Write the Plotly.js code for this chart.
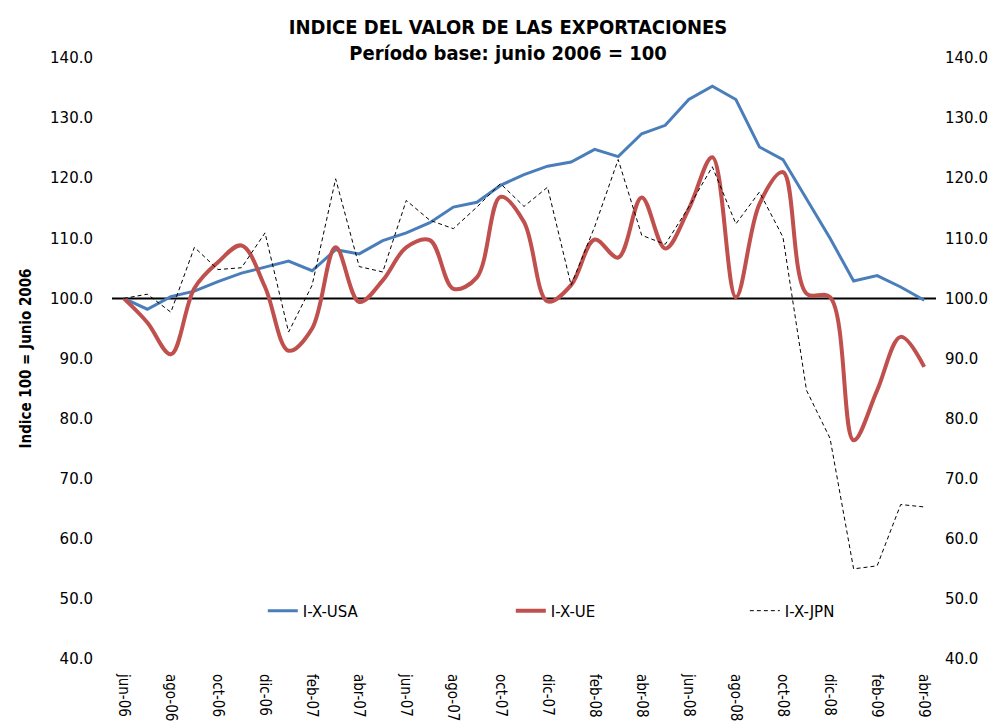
<!DOCTYPE html>
<html>
<head>
<meta charset="utf-8">
<script src="https://cdn.plot.ly/plotly-3.0.1.min.js"></script>
<style>
  html, body { margin: 0; padding: 0; background: #fff; }
  #chart { width: 1008px; height: 728px; }
</style>
</head>
<body>
<div id="chart"></div>
<script>
// Months jun-06 .. abr-09
const MONTHS = [
  'jun-06', 'jul-06', 'ago-06', 'sep-06', 'oct-06', 'nov-06', 'dic-06',
  'ene-07', 'feb-07', 'mar-07', 'abr-07', 'may-07', 'jun-07', 'jul-07',
  'ago-07', 'sep-07', 'oct-07', 'nov-07', 'dic-07', 'ene-08', 'feb-08',
  'mar-08', 'abr-08', 'may-08', 'jun-08', 'jul-08', 'ago-08', 'sep-08',
  'oct-08', 'nov-08', 'dic-08', 'ene-09', 'feb-09', 'mar-09', 'abr-09'
];

// Values
const USA = [
  100.0, 98.2, 100.3, 101.2, 102.8, 104.2, 105.2, 106.2, 104.6, 108.1,
  107.4, 109.6, 110.9, 112.6, 115.2, 116.0, 118.8, 120.6, 122.0, 122.7,
  124.8, 123.6, 127.4, 128.8, 133.1, 135.3, 133.1, 125.2, 123.1, 116.5,
  110.0, 102.9, 103.8, 101.9, 99.7
];
const UE = [
  100.0, 96.0, 90.7, 101.7, 106.0, 108.8, 101.9, 91.3, 95.0, 108.5,
  99.4, 103.0, 108.5, 109.7, 101.6, 103.5, 116.9, 112.7, 99.5, 102.2,
  109.8, 106.8, 116.8, 108.3, 114.9, 123.5, 100.2, 115.7, 121.0, 100.8,
  100.2, 76.4, 84.7, 93.6, 88.6
];
const JPN = [
  100.0, 100.7, 97.7, 108.5, 104.8, 105.1, 110.9, 94.4, 102.2, 119.9,
  105.3, 104.4, 116.3, 113.0, 111.6, 115.2, 119.1, 115.3, 118.5, 102.2,
  111.9, 123.1, 110.5, 109.0, 115.2, 121.9, 112.4, 117.7, 110.2, 84.7,
  76.7, 55.0, 55.5, 65.7, 65.3
];

const BASE = 100;
const Y_TICKS = [40, 50, 60, 70, 80, 90, 100, 110, 120, 130, 140];
const X_TICKS = MONTHS.filter((m, i) => i % 2 === 0);

const BLUE = '#4A7EBB';
const RED = '#C0504D';

const TICK_FONT = { family: 'DejaVu Sans, sans-serif', size: 15, color: '#000' };
const NARROW = 'Liberation Sans Narrow, DejaVu Sans Condensed, sans-serif';

const traces = [
  {
    x: MONTHS, y: USA, name: 'I-X-USA', type: 'scatter', mode: 'lines',
    line: { color: BLUE, width: 3 }, legend: 'legend'
  },
  {
    x: MONTHS, y: UE, name: 'I-X-UE', type: 'scatter', mode: 'lines',
    line: { color: RED, width: 4, shape: 'spline', smoothing: 1 }, legend: 'legend2'
  },
  {
    x: MONTHS, y: JPN, name: 'I-X-JPN', type: 'scatter', mode: 'lines',
    line: { color: '#000', width: 1, dash: '4px,3px' }, legend: 'legend3'
  },
  // carries the right-hand axis
  {
    x: MONTHS, y: USA, yaxis: 'y2', type: 'scatter', mode: 'lines',
    line: { width: 0 }, opacity: 0, showlegend: false, hoverinfo: 'skip'
  }
];

// one legend box per series, spread along the bottom of the plot
function legendAt(x) {
  return {
    orientation: 'h',
    x: x, xanchor: 'left',
    y: 0.08, yanchor: 'middle',
    bgcolor: 'rgba(0,0,0,0)',
    font: { family: 'DejaVu Sans, sans-serif', size: 15, color: '#000' }
  };
}

const layout = {
  width: 1008,
  height: 728,
  margin: { l: 112, r: 72, t: 58, b: 69 },
  paper_bgcolor: '#fff',
  plot_bgcolor: '#fff',
  title: {
    text: '<b>INDICE DEL VALOR DE LAS EXPORTACIONES</b><br><b>Período base: junio 2006 = 100</b>',
    font: { family: NARROW, size: 20, color: '#000' },
    x: 0.504, xanchor: 'center',
    yref: 'container',
    y: 0.953, yanchor: 'middle'
  },
  xaxis: {
    type: 'category',
    categoryorder: 'array',
    categoryarray: MONTHS,
    range: [-0.5, MONTHS.length - 0.5],
    tickmode: 'array',
    tickvals: X_TICKS,
    ticktext: X_TICKS,
    tickangle: 90,
    tickfont: { family: NARROW, size: 15, color: '#000' },
    showgrid: false,
    showline: false,
    zeroline: false,
    ticks: '',
    ticklabelstandoff: 14
  },
  yaxis: {
    range: [40, 140],
    tickmode: 'array',
    tickvals: Y_TICKS,
    tickformat: '.1f',
    tickfont: TICK_FONT,
    showgrid: false,
    showline: false,
    zeroline: false,
    ticks: '',
    ticklabelstandoff: 18,
    title: {
      text: '<b>Indice 100 = Junio 2006</b>',
      font: { family: NARROW, size: 15, color: '#000' },
      standoff: 14
    }
  },
  yaxis2: {
    overlaying: 'y',
    side: 'right',
    range: [40, 140],
    tickmode: 'array',
    tickvals: Y_TICKS,
    tickformat: '.1f',
    tickfont: TICK_FONT,
    showgrid: false,
    showline: false,
    zeroline: false,
    ticks: '',
    ticklabelstandoff: 8
  },
  shapes: [{
    type: 'line', xref: 'paper', yref: 'y',
    x0: 0, x1: 1, y0: BASE, y1: BASE,
    line: { color: '#000', width: 2 },
    layer: 'below'
  }],
  showlegend: true,
  legend: legendAt(0.183),
  legend2: legendAt(0.484),
  legend3: legendAt(0.768)
};

Plotly.newPlot('chart', traces, layout, { displayModeBar: false, staticPlot: true });
</script>
</body>
</html>
